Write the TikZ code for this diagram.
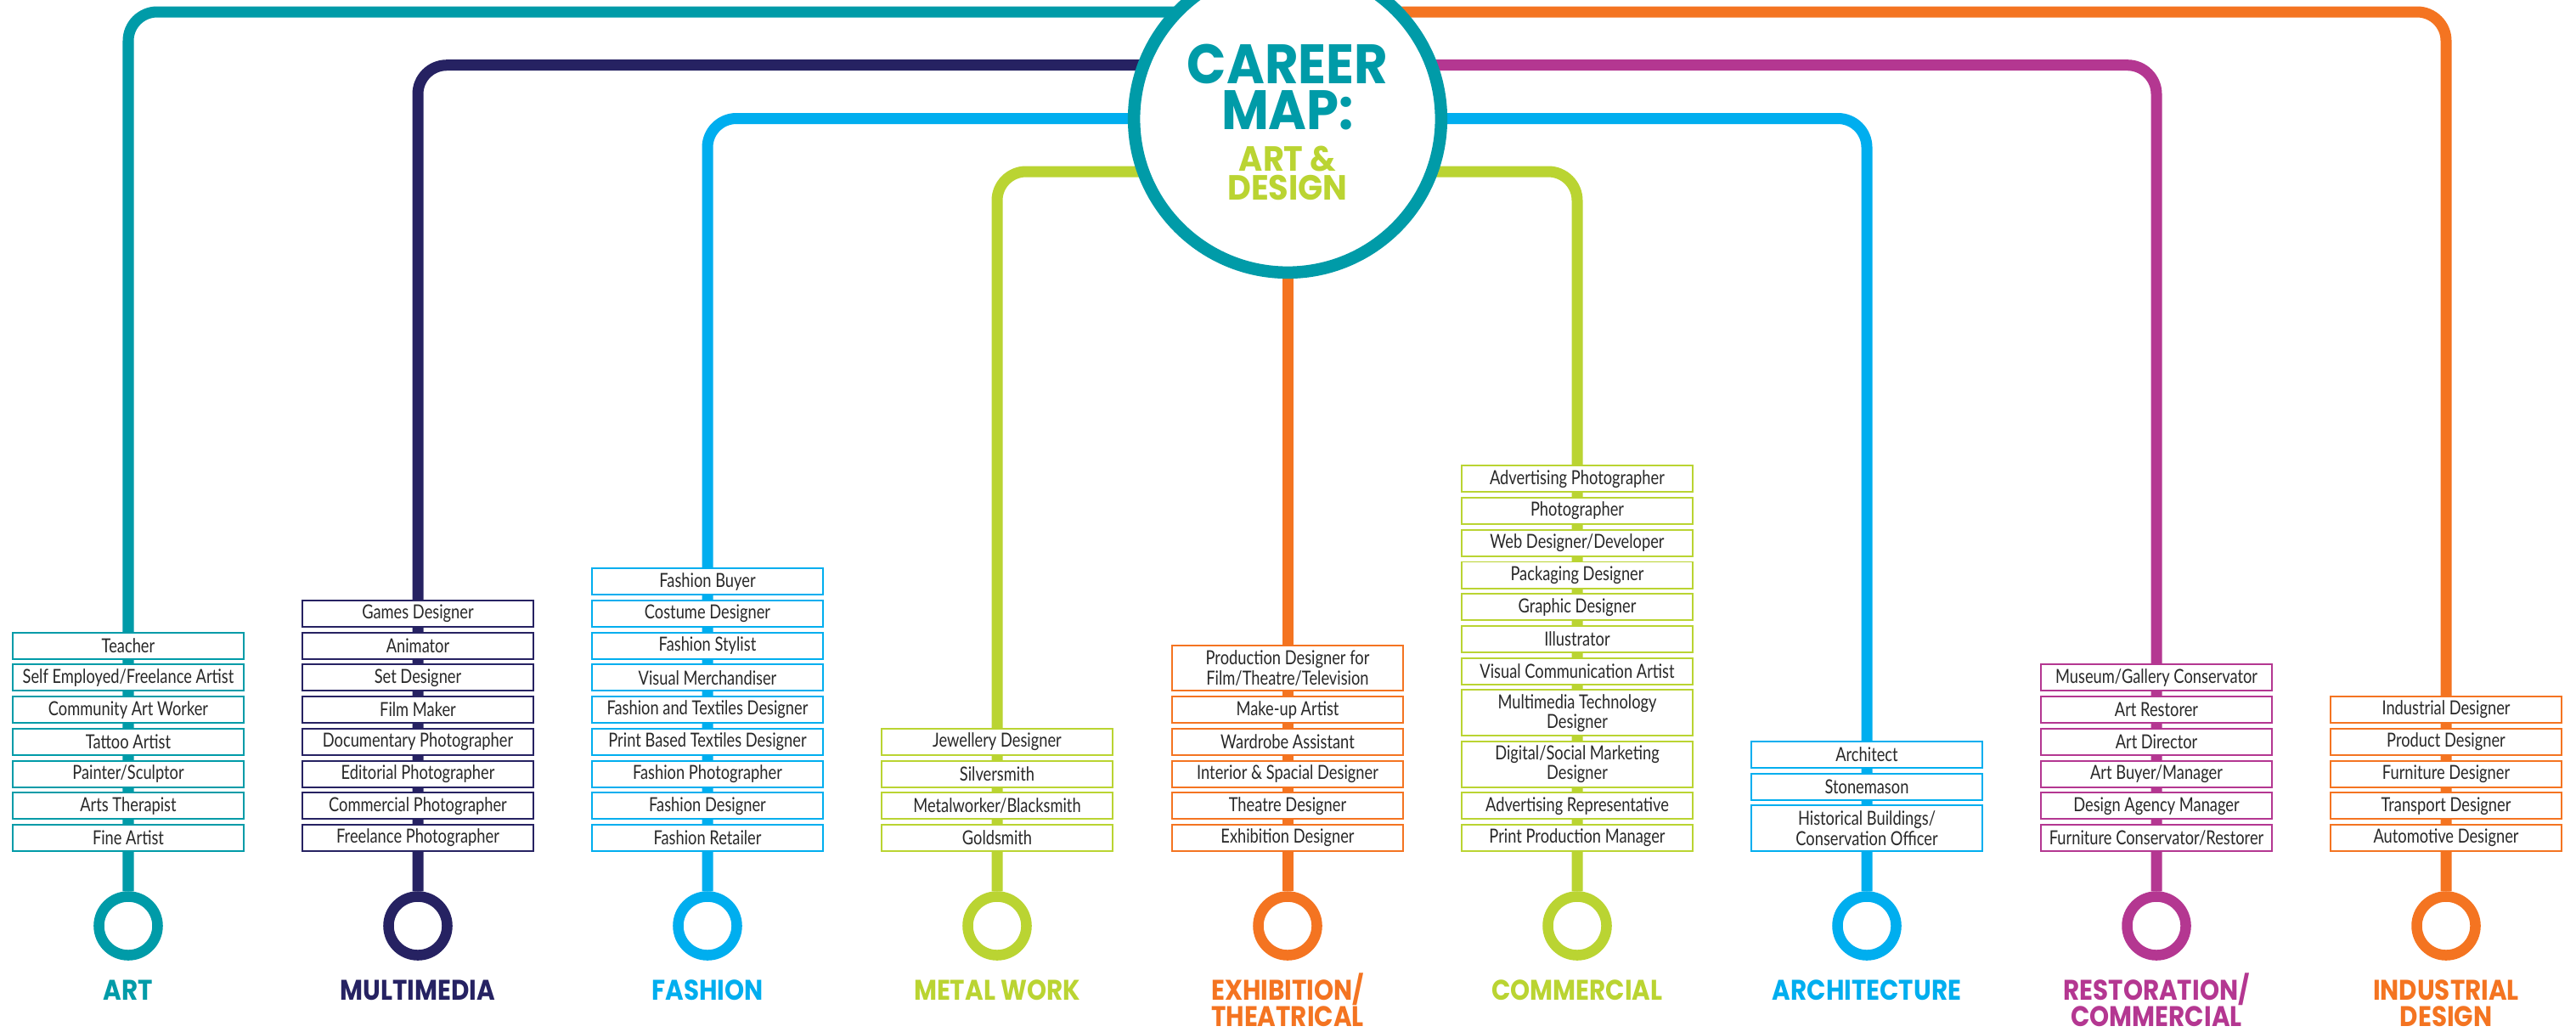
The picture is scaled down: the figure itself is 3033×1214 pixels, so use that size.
\documentclass[tikz,border=0pt]{standalone}
\usepackage{fontspec}
\usetikzlibrary{positioning}
\newfontfamily\boxfont[FakeStretch=0.8]{Lato}
\newfontfamily\headfont[FakeStretch=0.88]{Poppins}
\newfontfamily\titlefont[FakeStretch=0.93]{Poppins}
\definecolor{cteal}{RGB}{0,155,168}
\definecolor{cnavy}{RGB}{38,34,98}
\definecolor{cblue}{RGB}{0,174,239}
\definecolor{clime}{RGB}{186,212,50}
\definecolor{corange}{RGB}{244,116,33}
\definecolor{cmag}{RGB}{180,55,145}
\definecolor{txt}{RGB}{40,40,40}
\pgfdeclarelayer{bg}
\pgfsetlayers{bg,main}
\begin{document}
\begin{tikzpicture}[x=0.01cm,y=-0.01cm,
  jobbox/.style={draw=#1, fill=white, line width=0.55pt, minimum width=2.71cm, minimum height=0.31cm, inner sep=0pt, outer sep=0pt, text=txt, align=center, font=\boxfont\fontsize{6.5}{6.6}\selectfont},
  tallbox/.style={jobbox=#1, minimum height=0.537cm},
  ring/.style={circle, draw=#1, line width=0.125cm, fill=white, minimum size=0.69cm, inner sep=0pt},
  route/.style={draw=#1, line width=0.13cm, rounded corners=0.34cm},
  cat/.style={text=#1, font=\headfont\bfseries\fontsize{9.5}{9}\selectfont, align=center, anchor=base, inner sep=0pt},
  gap/.style={above=0.067cm of #1}
]
\useasboundingbox (0,0) rectangle (3033,1214);
\clip (0,0) rectangle (3033,1214);

% hub
\node[circle, draw=cteal, line width=0.145cm, fill=white, minimum size=3.615cm, inner sep=0pt] (hub) at (1516,140) {};
\node[anchor=base, inner sep=0pt, align=center, text=cteal, font=\titlefont\bfseries\fontsize{18.6}{15.3}\selectfont] (t1) at (1516,152) {CAREER\\MAP:};
\node[anchor=base, inner sep=0pt, align=center, text=clime, font=\titlefont\bfseries\fontsize{11.7}{9.4}\selectfont] (t2) at (1516,235) {ART \&\\DESIGN};

% ART
\node[jobbox=cteal] (a7) at (151,986.5) {Fine Artist};
\node[jobbox=cteal, gap=a7] (a6) {Arts Therapist};
\node[jobbox=cteal, gap=a6] (a5) {Painter/Sculptor};
\node[jobbox=cteal, gap=a5] (a4) {Tattoo Artist};
\node[jobbox=cteal, gap=a4] (a3) {Community Art Worker};
\node[jobbox=cteal, gap=a3] (a2) {Self Employed/Freelance Artist};
\node[jobbox=cteal, gap=a2] (a1) {Teacher};
\node[ring=cteal] (aring) at (151,1090) {};
\node[cat=cteal] (alab) at (151,1177) {ART};

% MULTIMEDIA
\node[jobbox=cnavy] (m8) at (492,986.5) {Freelance Photographer};
\node[jobbox=cnavy, gap=m8] (m7) {Commercial Photographer};
\node[jobbox=cnavy, gap=m7] (m6) {Editorial Photographer};
\node[jobbox=cnavy, gap=m6] (m5) {Documentary Photographer};
\node[jobbox=cnavy, gap=m5] (m4) {Film Maker};
\node[jobbox=cnavy, gap=m4] (m3) {Set Designer};
\node[jobbox=cnavy, gap=m3] (m2) {Animator};
\node[jobbox=cnavy, gap=m2] (m1) {Games Designer};
\node[ring=cnavy] (mring) at (492,1090) {};
\node[cat=cnavy] (mlab) at (492,1177) {MULTIMEDIA};

% FASHION
\node[jobbox=cblue] (f9) at (833,986.5) {Fashion Retailer};
\node[jobbox=cblue, gap=f9] (f8) {Fashion Designer};
\node[jobbox=cblue, gap=f8] (f7) {Fashion Photographer};
\node[jobbox=cblue, gap=f7] (f6) {Print Based Textiles Designer};
\node[jobbox=cblue, gap=f6] (f5) {Fashion and Textiles Designer};
\node[jobbox=cblue, gap=f5] (f4) {Visual Merchandiser};
\node[jobbox=cblue, gap=f4] (f3) {Fashion Stylist};
\node[jobbox=cblue, gap=f3] (f2) {Costume Designer};
\node[jobbox=cblue, gap=f2] (f1) {Fashion Buyer};
\node[ring=cblue] (fring) at (833,1090) {};
\node[cat=cblue] (flab) at (833,1177) {FASHION};

% METAL WORK
\node[jobbox=clime] (w4) at (1174,986.5) {Goldsmith};
\node[jobbox=clime, gap=w4] (w3) {Metalworker/Blacksmith};
\node[jobbox=clime, gap=w3] (w2) {Silversmith};
\node[jobbox=clime, gap=w2] (w1) {Jewellery Designer};
\node[ring=clime] (wring) at (1174,1090) {};
\node[cat=clime] (wlab) at (1174,1177) {METAL WORK};

% EXHIBITION
\node[jobbox=corange] (e6) at (1516,986.5) {Exhibition Designer};
\node[jobbox=corange, gap=e6] (e5) {Theatre Designer};
\node[jobbox=corange, gap=e5] (e4) {Interior \& Spacial Designer};
\node[jobbox=corange, gap=e4] (e3) {Wardrobe Assistant};
\node[jobbox=corange, gap=e3] (e2) {Make-up Artist};
\node[tallbox=corange, gap=e2] (e1) {Production Designer for\\Film/Theatre/Television};
\node[ring=corange] (ering) at (1516,1090) {};
\node[cat=corange] (elab) at (1516,1208.7) {EXHIBITION/\\THEATRICAL};

% COMMERCIAL
\node[jobbox=clime] (c11) at (1857,986.5) {Print Production Manager};
\node[jobbox=clime, gap=c11] (c10) {Advertising Representative};
\node[tallbox=clime, gap=c10] (c9) {Digital/Social Marketing\\Designer};
\node[tallbox=clime, gap=c9] (c8) {Multimedia Technology\\Designer};
\node[jobbox=clime, gap=c8] (c7) {Visual Communication Artist};
\node[jobbox=clime, gap=c7] (c6) {Illustrator};
\node[jobbox=clime, gap=c6] (c5) {Graphic Designer};
\node[jobbox=clime, gap=c5] (c4) {Packaging Designer};
\node[jobbox=clime, gap=c4] (c3) {Web Designer/Developer};
\node[jobbox=clime, gap=c3] (c2) {Photographer};
\node[jobbox=clime, gap=c2] (c1) {Advertising Photographer};
\node[ring=clime] (cring) at (1857,1090) {};
\node[cat=clime] (clab) at (1857,1177) {COMMERCIAL};

% ARCHITECTURE
\node[tallbox=cblue] (r3) at (2198,975.15) {Historical Buildings/\\Conservation Officer};
\node[jobbox=cblue, gap=r3] (r2) {Stonemason};
\node[jobbox=cblue, gap=r2] (r1) {Architect};
\node[ring=cblue] (rring) at (2198,1090) {};
\node[cat=cblue] (rlab) at (2198,1177) {ARCHITECTURE};

% RESTORATION
\node[jobbox=cmag] (s6) at (2539,986.5) {Furniture Conservator/Restorer};
\node[jobbox=cmag, gap=s6] (s5) {Design Agency Manager};
\node[jobbox=cmag, gap=s5] (s4) {Art Buyer/Manager};
\node[jobbox=cmag, gap=s4] (s3) {Art Director};
\node[jobbox=cmag, gap=s3] (s2) {Art Restorer};
\node[jobbox=cmag, gap=s2] (s1) {Museum/Gallery Conservator};
\node[ring=cmag] (sring) at (2539,1090) {};
\node[cat=cmag] (slab) at (2539,1208.7) {RESTORATION/\\COMMERCIAL};

% INDUSTRIAL
\node[jobbox=corange] (i5) at (2880,986.5) {Automotive Designer};
\node[jobbox=corange, gap=i5] (i4) {Transport Designer};
\node[jobbox=corange, gap=i4] (i3) {Furniture Designer};
\node[jobbox=corange, gap=i3] (i2) {Product Designer};
\node[jobbox=corange, gap=i2] (i1) {Industrial Designer};
\node[ring=corange] (iring) at (2880,1090) {};
\node[cat=corange] (ilab) at (2880,1208.7) {INDUSTRIAL\\DESIGN};

% route corners
\coordinate (ac) at (151,14);
\coordinate (mc) at (492,76.7);
\coordinate (fc) at (833,139.5);
\coordinate (wc) at (1174,202);
\coordinate (cc) at (1857,202);
\coordinate (rc) at (2198,139.5);
\coordinate (sc) at (2539,76.7);
\coordinate (ic) at (2880,14);

\begin{pgfonlayer}{bg}
\fill[white] (0,0) rectangle (3033,1214);
\draw[route=cteal] (hub |- ac) -- (ac) -- (aring.north);
\draw[route=cnavy] (hub |- mc) -- (mc) -- (mring.north);
\draw[route=cblue] (hub |- fc) -- (fc) -- (fring.north);
\draw[route=clime] (hub |- wc) -- (wc) -- (wring.north);
\draw[route=corange] (hub.south) -- (ering.north);
\draw[route=clime] (hub |- cc) -- (cc) -- (cring.north);
\draw[route=cblue] (hub |- rc) -- (rc) -- (rring.north);
\draw[route=cmag] (hub |- sc) -- (sc) -- (sring.north);
\draw[route=corange] (hub |- ic) -- (ic) -- (iring.north);
\end{pgfonlayer}
\end{tikzpicture}
\end{document}
